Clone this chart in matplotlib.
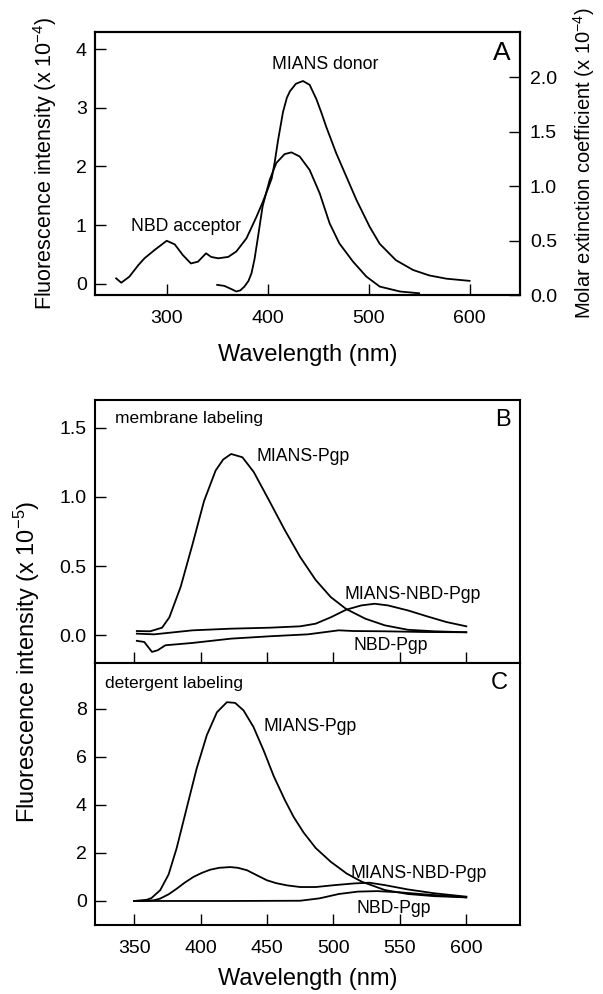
import numpy as np
import matplotlib
matplotlib.use("Agg")
import matplotlib.pyplot as plt
from matplotlib.ticker import FormatStrFormatter

plt.rcParams['font.family'] = ['Liberation Sans', 'DejaVu Sans']
plt.rcParams['mathtext.default'] = 'regular'

# ---------------- data ----------------
# panel A: NBD acceptor absorption (right axis, x 10^-4)
wl_nbd_abs = [250, 255, 263, 272, 278, 288, 300, 308, 316, 324, 331, 339, 344, 351,
              361, 369, 379, 389, 395, 400, 404, 407, 410.3, 415.2, 419, 422, 428,
              435, 441.6, 448.2, 453, 458, 468, 478, 488, 501, 511, 527, 544, 560,
              577, 600]
eps_nbd_abs = [0.153, 0.113, 0.168, 0.275, 0.337, 0.413, 0.498, 0.465, 0.367, 0.29,
               0.306, 0.383, 0.35, 0.337, 0.35, 0.40, 0.52, 0.72, 0.85, 0.97, 1.07,
               1.22, 1.42, 1.68, 1.81, 1.87, 1.94, 1.965, 1.93, 1.80, 1.68, 1.545,
               1.30, 1.086, 0.872, 0.627, 0.47, 0.32, 0.23, 0.18, 0.15, 0.13]

# panel A: MIANS donor emission (left axis, x 10^-4)
wl_mians_em = [350, 357, 363, 369, 373, 377, 381, 384, 387, 390, 395, 402, 408.6,
               416.8, 423.5, 431.7, 441.6, 451.5, 461.4, 471, 484.5, 497.7, 511,
               531, 550]
fl_mians_em = [-0.017, -0.034, -0.08, -0.13, -0.11, -0.046, 0.05, 0.18, 0.42, 0.75,
               1.32, 1.77, 2.06, 2.21, 2.24, 2.17, 1.94, 1.545, 1.03, 0.69, 0.38,
               0.125, -0.046, -0.13, -0.16]

# panel B: membrane labeling (x 10^-5)
wl_b_mians = [352, 362, 371, 376.5, 385, 394, 402.6, 411.3, 417, 423, 431.5, 440,
              451.8, 463.4, 475, 486.6, 498, 509.6, 524, 538.7, 556, 576, 600]
fl_b_mians = [0.031, 0.029, 0.055, 0.13, 0.35, 0.66, 0.97, 1.19, 1.27, 1.31, 1.286,
              1.18, 0.97, 0.76, 0.565, 0.40, 0.276, 0.19, 0.12, 0.072, 0.04, 0.029, 0.022]

wl_b_fret = [352, 365, 394, 423, 452, 475, 486.6, 498, 509.6, 521, 531, 541, 556,
             570.5, 585, 600]
fl_b_fret = [0.012, 0.007, 0.036, 0.048, 0.055, 0.065, 0.084, 0.13, 0.185, 0.216,
             0.228, 0.216, 0.18, 0.137, 0.096, 0.065]

wl_b_nbd = [352, 357.6, 363.4, 367.7, 373.5, 394, 423, 452, 480.7, 504, 515, 538.7,
            567.6, 600]
fl_b_nbd = [-0.04, -0.048, -0.12, -0.108, -0.072, -0.055, -0.024, -0.007, 0.007,
            0.036, 0.031, 0.029, 0.024, 0.022]

# panel C: detergent labeling (x 10^-5)
wl_c_mians = [350, 359.5, 363, 369.6, 375.9, 382, 389.7, 397, 404.7, 412.3, 419.8,
              426, 432.3, 439.8, 447.4, 455, 463.6, 470, 477.5, 486.7, 498, 510,
              521.4, 538.7, 556, 576, 600]
fl_c_mians = [0, 0.05, 0.12, 0.45, 1.1, 2.2, 3.9, 5.5, 6.9, 7.85, 8.27, 8.24, 7.93,
              7.24, 6.27, 5.2, 4.18, 3.5, 2.85, 2.2, 1.63, 1.14, 0.8, 0.455, 0.29,
              0.2, 0.15]

wl_c_fret = [350, 356.8, 365, 369.6, 376, 382, 388, 394.6, 401, 407.2, 414, 422.3,
             428, 434.9, 442, 450, 457, 465, 475, 486.7, 501, 515.6, 527, 538.7,
             556, 576, 600]
fl_c_fret = [0, 0, 0.03, 0.1, 0.28, 0.51, 0.76, 1.0, 1.17, 1.3, 1.38, 1.41, 1.38,
             1.28, 1.08, 0.86, 0.74, 0.65, 0.58, 0.58, 0.66, 0.73, 0.76, 0.66,
             0.48, 0.32, 0.18]

wl_c_nbd = [350, 423, 475, 489.6, 504, 518.5, 533, 550, 567.6, 585, 600]
fl_c_nbd = [0, 0, 0.01, 0.11, 0.29, 0.39, 0.41, 0.36, 0.28, 0.21, 0.15]

# ---------------- figure ----------------
LW = 1.3
fig = plt.figure(figsize=(6.03, 9.94), dpi=100)
axA = fig.add_axes([0.1575, 0.7032, 0.705, 0.2646])
axB = fig.add_axes([0.1575, 0.333, 0.705, 0.2646])
axC = fig.add_axes([0.1575, 0.0694, 0.705, 0.2636])


def style(ax):
    for s in ax.spines.values():
        s.set_linewidth(1.5)
    ax.tick_params(direction='in', length=8, width=1, labelsize=14)
    ax.tick_params(axis='x', pad=11)
    ax.tick_params(axis='y', pad=6)


# panel A
axA.plot(wl_mians_em, fl_mians_em, color='k', lw=LW)
axA.set_xlim(229, 650)
axA.set_ylim(-0.19, 4.29)
axA.set_xticks([300, 400, 500, 600])
axA.set_yticks([0, 1, 2, 3, 4])
axA.set_xlabel('Wavelength (nm)', fontsize=17, labelpad=12)
axA.set_ylabel('Fluorescence intensity (x 10$^{-4}$)', fontsize=15.5, labelpad=12)
style(axA)
axA2 = axA.twinx()
axA2.plot(wl_nbd_abs, eps_nbd_abs, color='k', lw=LW)
axA2.set_ylim(0, 2.415)
axA2.set_yticks([0, 0.5, 1.0, 1.5, 2.0])
axA2.yaxis.set_major_formatter(FormatStrFormatter('%.1f'))
axA2.set_ylabel('Molar extinction coefficient (x 10$^{-4}$)', fontsize=14.5, labelpad=10)
style(axA2)
axA2.tick_params(axis='y', pad=7)
axA.text(0.541, 0.875, 'MIANS donor', transform=axA.transAxes, fontsize=12.7,
         ha='center', va='center')
axA.text(0.214, 0.259, 'NBD acceptor', transform=axA.transAxes, fontsize=12.7,
         ha='center', va='center')
axA.text(0.957, 0.919, 'A', transform=axA.transAxes, fontsize=19,
         ha='center', va='center')

# panel B
axB.plot(wl_b_mians, fl_b_mians, color='k', lw=LW)
axB.plot(wl_b_fret, fl_b_fret, color='k', lw=LW)
axB.plot(wl_b_nbd, fl_b_nbd, color='k', lw=LW)
axB.set_xlim(320.5, 640.5)
axB.set_ylim(-0.2, 1.7)
axB.set_xticks([350, 400, 450, 500, 550, 600])
axB.set_xticklabels([])
axB.set_yticks([0.0, 0.5, 1.0, 1.5])
axB.yaxis.set_major_formatter(FormatStrFormatter('%.1f'))
style(axB)
axB.text(0.047, 0.930, 'membrane labeling', transform=axB.transAxes, fontsize=12.5,
         ha='left', va='center')
axB.text(0.959, 0.924, 'B', transform=axB.transAxes, fontsize=17,
         ha='center', va='center')
axB.text(0.380, 0.784, 'MIANS-Pgp', transform=axB.transAxes, fontsize=12.7,
         ha='left', va='center')
axB.text(0.588, 0.259, 'MIANS-NBD-Pgp', transform=axB.transAxes, fontsize=12.7,
         ha='left', va='center')
axB.text(0.608, 0.068, 'NBD-Pgp', transform=axB.transAxes, fontsize=12.7,
         ha='left', va='center')

# panel C
axC.plot(wl_c_mians, fl_c_mians, color='k', lw=LW)
axC.plot(wl_c_fret, fl_c_fret, color='k', lw=LW)
axC.plot(wl_c_nbd, fl_c_nbd, color='k', lw=LW)
axC.set_xlim(320.5, 640.5)
axC.set_ylim(-1.0, 9.9)
axC.set_xticks([350, 400, 450, 500, 550, 600])
axC.set_yticks([0, 2, 4, 6, 8])
axC.set_xlabel('Wavelength (nm)', fontsize=17, labelpad=8)
style(axC)
axC.text(0.0235, 0.922, 'detergent labeling', transform=axC.transAxes, fontsize=12.5,
         ha='left', va='center')
axC.text(0.951, 0.922, 'C', transform=axC.transAxes, fontsize=17,
         ha='center', va='center')
axC.text(0.396, 0.757, 'MIANS-Pgp', transform=axC.transAxes, fontsize=12.7,
         ha='left', va='center')
axC.text(0.602, 0.197, 'MIANS-NBD-Pgp', transform=axC.transAxes, fontsize=12.7,
         ha='left', va='center')
axC.text(0.616, 0.064, 'NBD-Pgp', transform=axC.transAxes, fontsize=12.7,
         ha='left', va='center')

# shared y label for B and C
fig.text(27 / 603, 0.3345, 'Fluorescence intensity (x 10$^{-5}$)', fontsize=17,
         rotation=90, ha='center', va='center')

fig.savefig('out.png', dpi=100)
